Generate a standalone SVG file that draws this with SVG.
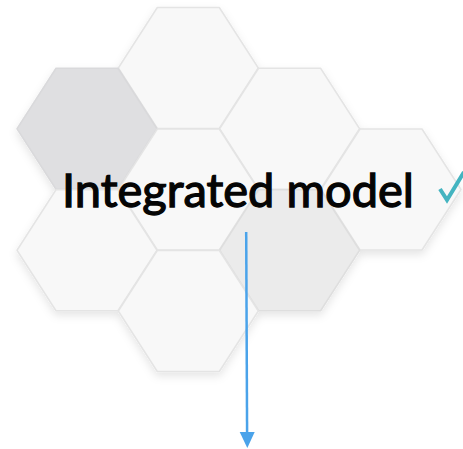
<svg xmlns="http://www.w3.org/2000/svg" xmlns:xlink="http://www.w3.org/1999/xlink" width="463" height="449" viewBox="0 0 463 449">
  <style>
    .hex-light { fill: #f8f8f8; stroke: #e4e4e4; stroke-width: 1.5; }
    .hex-dark { fill: #dfdfe1; stroke: #d9d9db; stroke-width: 1.5; }
    .hex-mid { fill: #ebebeb; stroke: #dedede; stroke-width: 1.5; }
    .title { font-family: Lato, "Liberation Sans", sans-serif; font-weight: 400; font-size: 47px; fill: #050505; stroke: #050505; stroke-width: 1.3; }
    .connector { stroke: #4aa3ea; stroke-width: 2.5; fill: none; }
    .arrowhead { fill: #4aa3ea; }
  </style>
  <defs>
    <polygon id="hex" points="-70,0 -31,-60.5 31,-60.5 70,0 31,60.5 -31,60.5" stroke-linejoin="round"/>
    <filter id="soft-shadow" x="-10%" y="-10%" width="120%" height="125%">
      <feDropShadow dx="0" dy="4" stdDeviation="4" flood-color="#000" flood-opacity="0.10"/>
    </filter>
  </defs>

  <rect width="463" height="449" fill="#ffffff"/>

  <!-- honeycomb cells -->
  <g filter="url(#soft-shadow)">
    <g id="cell-top"><use xlink:href="#hex" href="#hex" class="hex-light" x="188.3" y="68"/></g>
    <g id="cell-left-upper"><use xlink:href="#hex" href="#hex" class="hex-dark" x="87" y="128.75"/></g>
    <g id="cell-right-upper"><use xlink:href="#hex" href="#hex" class="hex-light" x="289.6" y="128.75"/></g>
    <g id="cell-center"><use xlink:href="#hex" href="#hex" class="hex-light" x="188.3" y="189.5"/></g>
    <g id="cell-far-right"><use xlink:href="#hex" href="#hex" class="hex-light" x="391" y="189.5"/></g>
    <g id="cell-left-lower"><use xlink:href="#hex" href="#hex" class="hex-light" x="87" y="250.25"/></g>
    <g id="cell-right-lower"><use xlink:href="#hex" href="#hex" class="hex-mid" x="289.6" y="250.25"/></g>
    <g id="cell-bottom"><use xlink:href="#hex" href="#hex" class="hex-light" x="188.3" y="311"/></g>
  </g>

  <!-- title -->
  <g id="title">
    <text class="title" x="62" y="207">Integrated model</text>
  </g>

  <!-- check mark -->
  <g id="check">
    <path d="M440,189 L447,200 L464,172" fill="none" stroke="#44b4c0" stroke-width="4"/>
  </g>

  <!-- connectors -->
  <g id="connectors">
    <line class="connector" x1="246.2" y1="232" x2="247.1" y2="434"/>
    <polygon class="arrowhead" points="239.7,432 254.7,432 247.3,448"/>
  </g>
</svg>
